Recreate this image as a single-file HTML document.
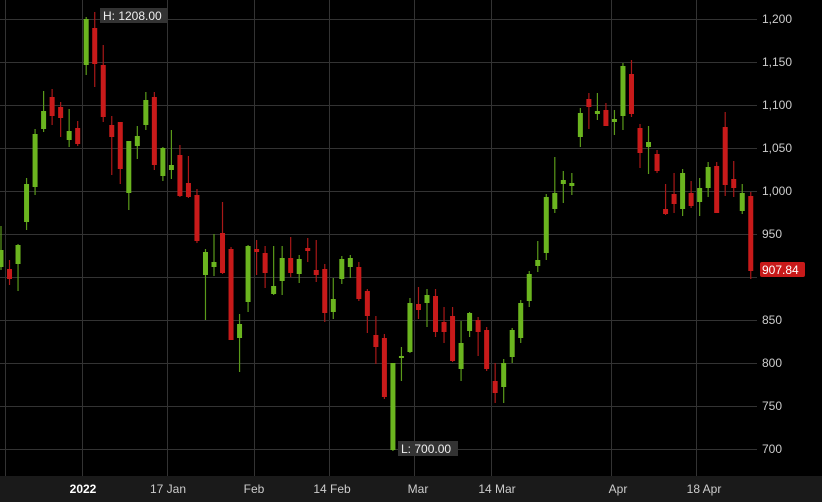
<!DOCTYPE html>
<html><head><meta charset="utf-8"><style>
html,body{margin:0;padding:0;background:#000;}
svg{display:block;}
text{font-family:"Liberation Sans",sans-serif;}
</style></head><body>
<svg width="822" height="502" viewBox="0 0 822 502" xmlns="http://www.w3.org/2000/svg">
<rect width="822" height="502" fill="#000"/>
<rect x="0" y="476" width="822" height="26" fill="#1a1a1a"/>
<g stroke="#333" stroke-width="1">
<line x1="0" x2="757" y1="19.5" y2="19.5"/><line x1="0" x2="757" y1="62.5" y2="62.5"/><line x1="0" x2="757" y1="105.5" y2="105.5"/><line x1="0" x2="757" y1="148.5" y2="148.5"/><line x1="0" x2="757" y1="191.5" y2="191.5"/><line x1="0" x2="757" y1="234.5" y2="234.5"/><line x1="0" x2="757" y1="277.5" y2="277.5"/><line x1="0" x2="757" y1="320.5" y2="320.5"/><line x1="0" x2="757" y1="363.5" y2="363.5"/><line x1="0" x2="757" y1="406.5" y2="406.5"/><line x1="0" x2="757" y1="449.5" y2="449.5"/>
<line x1="5.5" x2="5.5" y1="0" y2="476"/><line x1="82.5" x2="82.5" y1="0" y2="476"/><line x1="167.5" x2="167.5" y1="0" y2="476"/><line x1="254.5" x2="254.5" y1="0" y2="476"/><line x1="329.5" x2="329.5" y1="0" y2="476"/><line x1="414.5" x2="414.5" y1="0" y2="476"/><line x1="491.5" x2="491.5" y1="0" y2="476"/><line x1="611.5" x2="611.5" y1="0" y2="476"/><line x1="696.5" x2="696.5" y1="0" y2="476"/>
</g>
<g fill="#ccc" font-size="12">
<text x="762" y="23">1,200</text><text x="762" y="66">1,150</text><text x="762" y="109">1,100</text><text x="762" y="152">1,050</text><text x="762" y="195">1,000</text><text x="762" y="238">950</text><text x="762" y="324">850</text><text x="762" y="367">800</text><text x="762" y="410">750</text><text x="762" y="453">700</text>
</g>
<g fill="#ccc" font-size="12" text-anchor="middle">
<text x="83" y="493" font-weight="bold" fill="#fff">2022</text><text x="168" y="493">17 Jan</text><text x="254" y="493">Feb</text><text x="332" y="493">14 Feb</text><text x="418" y="493">Mar</text><text x="497" y="493">14 Mar</text><text x="618" y="493">Apr</text><text x="704" y="493">18 Apr</text>
</g>
<g id="c"></g>
<rect x="100" y="8" width="67" height="15" fill="#333"/>
<text x="103" y="20" fill="#eee" font-size="12">H: 1208.00</text>
<rect x="398" y="441" width="60" height="15" fill="#333"/>
<text x="401" y="453" fill="#eee" font-size="12">L: 700.00</text>
<rect x="760" y="262" width="45" height="15" rx="2" fill="#c81a1a"/>
<text x="762" y="274" fill="#fff" font-size="12">907.84</text>
</svg>
<script>
var d=[
[1,226,270,250,267,1],[2,260,285,269,279,0],[3,244,291,245,264,1],[4,178,230,184,222,1],[5,129,195,134,187,1],[6,91,132,111,129,1],[7,89,125,97,116,0],[8,102,137,107,118,0],[9,109,147,131,140,1],[10,121,146,128,144,0],
[11,17,75,19,65,1],[12,12,87,28,64,0],[13,45,122,65,117,0],[14,116,175,125,137,0],[15,122,184,122,169,0],[16,141,210,141,193,1],[17,126,159,136,146,1],[18,92,130,100,125,1],[19,92,170,97,165,0],[20,147,181,148,176,1],
[21,130,179,165,170,1],[22,145,197,155,196,0],[23,156,198,183,197,0],[24,189,243,195,241,0],[25,249,320,252,275,1],[26,234,276,262,267,1],[27,202,274,233,273,0],[28,247,340,249,340,0],[29,314,372,324,338,1],[30,245,312,246,302,1],
[31,240,275,249,252,0],[32,246,288,253,273,0],[33,246,295,286,294,1],[34,246,295,258,281,1],[35,237,277,258,273,0],[36,255,283,259,274,1],[37,238,262,248,251,0],[38,240,282,270,275,0],[39,264,322,269,313,0],[40,278,319,299,312,1],
[41,256,284,259,279,1],[42,255,278,258,267,1],[43,262,301,267,299,0],[44,289,333,291,316,0],[45,316,364,335,347,0],[46,334,399,338,397,0],[47,363,451,363,450,1],[48,347,381,356,358,1],[49,298,353,303,352,1],[50,287,319,304,310,0],
[51,289,327,295,303,1],[52,289,337,296,332,0],[53,307,343,322,332,0],[54,307,362,316,361,0],[55,321,381,343,369,1],[56,312,337,313,331,1],[57,317,356,320,332,0],[58,327,371,330,369,0],[59,363,403,381,393,0],[60,359,403,363,387,1],
[61,328,363,330,357,1],[62,300,343,303,338,1],[63,271,307,274,301,1],[64,241,272,260,266,1],[65,194,260,197,253,1],[66,157,213,193,209,1],[67,171,203,180,184,1],[68,173,195,183,186,1],[69,108,147,113,137,1],[70,93,129,99,107,0],
[71,93,120,111,114,1],[72,103,126,110,126,0],[73,110,135,119,122,1],[74,63,130,66,116,1],[75,60,117,74,114,0],[76,124,168,128,153,0],[77,126,174,142,147,1],[78,150,173,154,171,0],[79,184,215,209,214,0],[80,173,213,194,204,0],
[81,169,216,173,209,1],[82,181,208,193,206,0],[83,178,216,188,202,1],[84,162,197,167,188,1],[85,162,213,166,213,0],[86,112,196,127,185,0],[87,161,197,179,188,0],[88,184,214,193,211,1],[89,192,279,196,271,0]];
var s='';
d.forEach(function(c){var x=1+(c[0]-1)*8.52;var col=c[5]?'#6bb51f':'#c81a1a';var wc=c[5]?'#5a9a1a':'#a81818';
s+='<line x1="'+x+'" x2="'+x+'" y1="'+c[1]+'" y2="'+c[2]+'" stroke="'+wc+'" stroke-width="1.2"/>';
var h=Math.max(c[4]-c[3],2);
s+='<rect x="'+(x-2.5)+'" y="'+c[3]+'" width="5" height="'+h+'" fill="'+col+'"/>';});
document.getElementById('c').innerHTML=s;
</script>
</body></html>
